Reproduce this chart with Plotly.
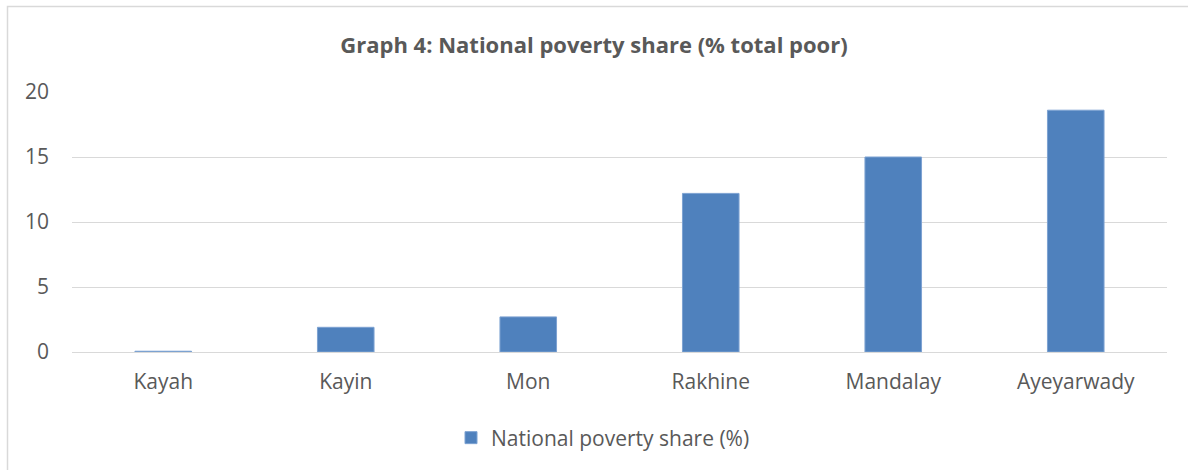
import plotly.graph_objects as go

categories = ["Kayah", "Kayin", "Mon", "Rakhine", "Mandalay", "Ayeyarwady"]
values = [0.06, 1.9, 2.7, 12.2, 15.0, 18.6]
series_name = "National poverty share (%)"
title_text = "Graph 4: National poverty share (% total poor)"
y_ticks = [0, 5, 10, 15, 20]

W, H = 1188, 470
L, R, T, B = 72, 21, 92, 118
pw, ph = W - L - R, H - T - B

def px_x(p):
    return (p - L) / pw

def px_y(p):
    return (H - B - p) / ph

font_family = "Open Sans, Liberation Sans, sans-serif"
grey = "#595959"

fig = go.Figure()
fig.add_trace(go.Bar(
    x=categories, y=values, name=series_name,
    marker=dict(color="#4f81bd", line=dict(color="#7da2d2", width=1)),
    showlegend=True,
))

fig.update_layout(
    width=W, height=H,
    margin=dict(l=L, r=R, t=T, b=B),
    paper_bgcolor="white", plot_bgcolor="white",
    bargap=0.69,
    title=dict(text="<b>" + title_text + "</b>", x=0.5, xanchor="center",
               y=1 - 45 / H, yanchor="middle",
               font=dict(family=font_family, size=22, color=grey)),
    font=dict(family=font_family, color=grey),
    xaxis=dict(showgrid=False, showline=False, ticks="", zeroline=False,
               ticklabelstandoff=15,
               tickfont=dict(size=21, color=grey)),
    yaxis=dict(range=[0, 20], tickvals=y_ticks, showgrid=True,
               gridcolor="#d9d9d9", gridwidth=1, zeroline=True,
               zerolinecolor="#d9d9d9", zerolinewidth=1, showline=False,
               ticks="", ticklabelstandoff=22,
               tickfont=dict(size=21, color=grey)),
    legend=dict(orientation="h", x=px_x(451), xanchor="left",
                y=px_y(438), yanchor="middle",
                font=dict(size=21, color=grey), itemwidth=30),
    shapes=[dict(type="rect", xref="paper", yref="paper",
                 x0=px_x(7.5), x1=px_x(1200), y0=px_y(480), y1=px_y(6.5),
                 line=dict(color="#d9d9d9", width=1.5), layer="below")],
)

fig.write_html("out.html", config={"displayModeBar": False},
               post_script="document.body.style.margin='0';")
